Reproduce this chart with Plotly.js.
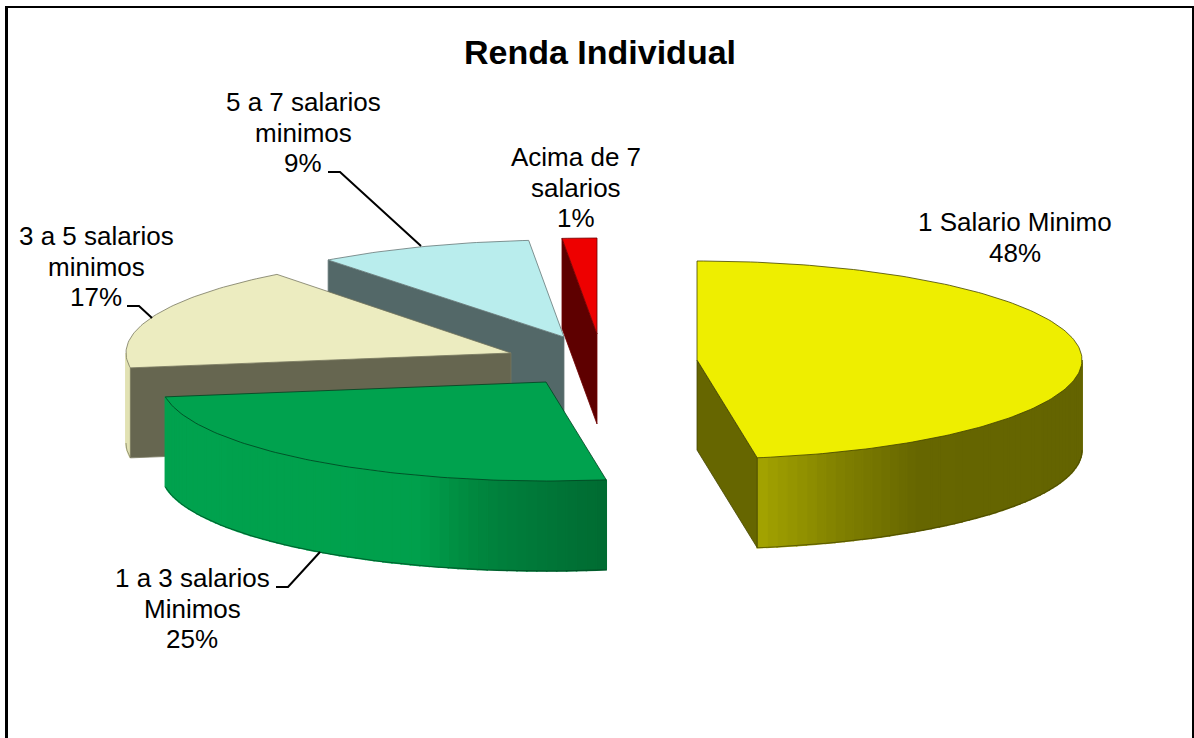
<!DOCTYPE html>
<html>
<head>
<meta charset="utf-8">
<script src="https://cdn.plot.ly/plotly-3.0.1.min.js"></script>
<style>html,body{margin:0;padding:0;background:#fff;overflow:hidden}#chart{width:1194px;height:738px}</style>
</head>
<body>
<div id="chart"></div>
<script>
// ---- data ----
const titleText = 'Renda Individual';
const categoryLines = [
  ['1 Salario Minimo'],
  ['1 a 3 salarios', 'Minimos'],
  ['3 a 5 salarios', 'minimos'],
  ['5 a 7 salarios', 'minimos'],
  ['Acima de 7', 'salarios']
];
const shareValues = [47.5, 25.1, 17.0, 8.95, 1.45];

// ---- styling ----
const topColors = ['#EEEE00', '#00A24E', '#ECECC0', '#B9EDED', '#EE0000'];
const cutColors = ['#666600', '#00A24E', '#666650', '#536868', '#5E0000'];
const edgeColors = ['#444400', '#004020', '#77775E', '#667777', '#700000'];
const wallStops = [
  [[757, [164, 164, 0]], [840, [128, 128, 0]], [917, [102, 102, 0]], [1082, [100, 100, 0]]],
  [[165, [0, 162, 78]], [417, [0, 160, 76]], [467, [0, 138, 64]], [500, [0, 127, 60]], [605, [0, 107, 50]]],
  [[126, [226, 226, 180]], [132, [226, 226, 180]]],
  [[0, [83, 104, 104]], [1194, [83, 104, 104]]],
  [[0, [94, 0, 0]], [1194, [94, 0, 0]]]
];
// exploded slice placement in axis units
const sliceCx = [697, 546, 511, 564, 597];
const sliceCy = [360, 382, 353, 337, 334];
const sliceRy = [99, 99, 99, 97, 96];
const sliceRx = [385, 385, 385, 388, 385];
const depth = 90;
const fontFamily = 'Liberation Sans, Arial, sans-serif';
const labelSize = 26;
const lineStep = 30.6;
const labelX = [1015, 192, 96, 303, 576];
const labelBaseline = [231, 587, 245, 111, 166];
const leaderLines = [
  null,
  {x: [276, 288, 320], y: [587, 587, 552]},
  {x: [127, 139, 152], y: [306, 306, 318]},
  {x: [328, 340, 421], y: [172, 172, 246]},
  null
];

// ---- geometry from the values ----
const total = shareValues.reduce((a, b) => a + b, 0);
let running = 0;
const startAngles = [], endAngles = [];
shareValues.forEach(v => {
  startAngles.push(running / total * 360);
  running += v;
  endAngles.push(running / total * 360);
});
const px = (i, deg) => sliceCx[i] + sliceRx[i] * Math.sin(deg * Math.PI / 180);
const py = (i, deg) => sliceCy[i] - sliceRy[i] * Math.cos(deg * Math.PI / 180);
function arcAngles(a, b, step) {
  const n = Math.max(2, Math.ceil(Math.abs(b - a) / step));
  const out = [];
  for (let k = 0; k <= n; k++) out.push(a + (b - a) * k / n);
  return out;
}
function stopColor(stops, x) {
  if (x <= stops[0][0]) return stops[0][1];
  for (let k = 1; k < stops.length; k++) {
    if (x <= stops[k][0]) {
      const t = (x - stops[k - 1][0]) / (stops[k][0] - stops[k - 1][0]);
      return stops[k - 1][1].map((c, j) => Math.round(c + (stops[k][1][j] - c) * t));
    }
  }
  return stops[stops.length - 1][1];
}
const traces = [];
function poly(xs, ys, fill, line, width) {
  traces.push({
    type: 'scatter', mode: 'lines', x: xs, y: ys, fill: 'toself', fillcolor: fill,
    line: {color: line, width: width}, hoverinfo: 'skip', showlegend: false
  });
}
function path(xs, ys, color, width) {
  traces.push({
    type: 'scatter', mode: 'lines', x: xs, y: ys,
    line: {color: color, width: width}, hoverinfo: 'skip', showlegend: false
  });
}
function drawSlice(i) {
  const a0 = startAngles[i], a1 = endAngles[i];
  const cx = sliceCx[i], cy = sliceCy[i];
  // visible outer wall: only where the rim faces the viewer (90..270 deg)
  const wa = Math.max(a0, 90), wb = Math.min(a1, 270);
  if (wb > wa) {
    const ang = arcAngles(wa, wb, 1.5);
    for (let k = 0; k < ang.length - 1; k++) {
      const x0 = px(i, ang[k]), x1 = px(i, ang[k + 1]);
      const y0 = py(i, ang[k]), y1 = py(i, ang[k + 1]);
      const c = 'rgb(' + stopColor(wallStops[i], (x0 + x1) / 2).join(',') + ')';
      poly([x0, x1, x1, x0, x0], [y0, y1, y1 + depth, y0 + depth, y0], c, c, 1.6);
    }
    // dark rim along the wall's lower edge
    path(ang.map(a => px(i, a)), ang.map(a => py(i, a) + depth), edgeColors[i], 0.7);
  }
  // cut face on the side that faces the viewer
  if (i !== 1) {
    const a = i === 0 ? a1 : a0;
    const xs = px(i, a), ys = py(i, a);
    poly([cx, xs, xs, cx, cx], [cy, ys, ys + depth, cy + depth, cy], cutColors[i], edgeColors[i], 0.8);
  }
  // top face
  const ang = arcAngles(a0, a1, 1);
  const xs = [cx].concat(ang.map(a => px(i, a)), [cx]);
  const ys = [cy].concat(ang.map(a => py(i, a)), [cy]);
  poly(xs, ys, topColors[i], edgeColors[i], 0.8);
}
[4, 3, 2, 1, 0].forEach(drawSlice);

// leader lines
leaderLines.forEach(l => { if (l) path(l.x, l.y, '#000000', 2); });

// labels: each line placed on its own baseline
const pctText = shareValues.map(v => Math.round(v / total * 100 + 1e-9) + '%');
const annotations = [];
categoryLines.forEach((lines, i) => {
  lines.concat([pctText[i]]).forEach((txt, j) => {
    annotations.push({
      xref: 'x', yref: 'y', x: labelX[i], y: labelBaseline[i] + j * lineStep - labelSize * 0.35,
      text: txt, showarrow: false, xanchor: 'center', yanchor: 'middle',
      font: {family: fontFamily, size: labelSize, color: '#000000'}
    });
  });
});

const layout = {
  width: 1194, height: 738, autosize: false,
  margin: {l: 0, r: 0, t: 0, b: 0, pad: 0},
  paper_bgcolor: '#ffffff', plot_bgcolor: '#ffffff', showlegend: false,
  title: {
    text: '<b>' + titleText + '</b>', x: 600 / 1194, xref: 'paper', xanchor: 'center',
    y: 1 - 52 / 738, yref: 'paper', yanchor: 'middle', automargin: false,
    font: {family: fontFamily, size: 34, color: '#000000'}
  },
  xaxis: {range: [0, 1194], visible: false, fixedrange: true},
  yaxis: {range: [738, 0], visible: false, fixedrange: true},
  annotations: annotations,
  shapes: [
    {type: 'line', xref: 'x', yref: 'y', x0: 6.5, x1: 6.5, y0: 7, y1: 738, line: {color: '#000', width: 3}},
    {type: 'line', xref: 'x', yref: 'y', x0: 5, x1: 1194, y0: 7, y1: 7, line: {color: '#000', width: 2}},
    {type: 'line', xref: 'x', yref: 'y', x0: 1193, x1: 1193, y0: 6, y1: 738, line: {color: '#000', width: 2}}
  ]
};
Plotly.newPlot('chart', traces, layout, {displayModeBar: false, staticPlot: true});
</script>
</body>
</html>
